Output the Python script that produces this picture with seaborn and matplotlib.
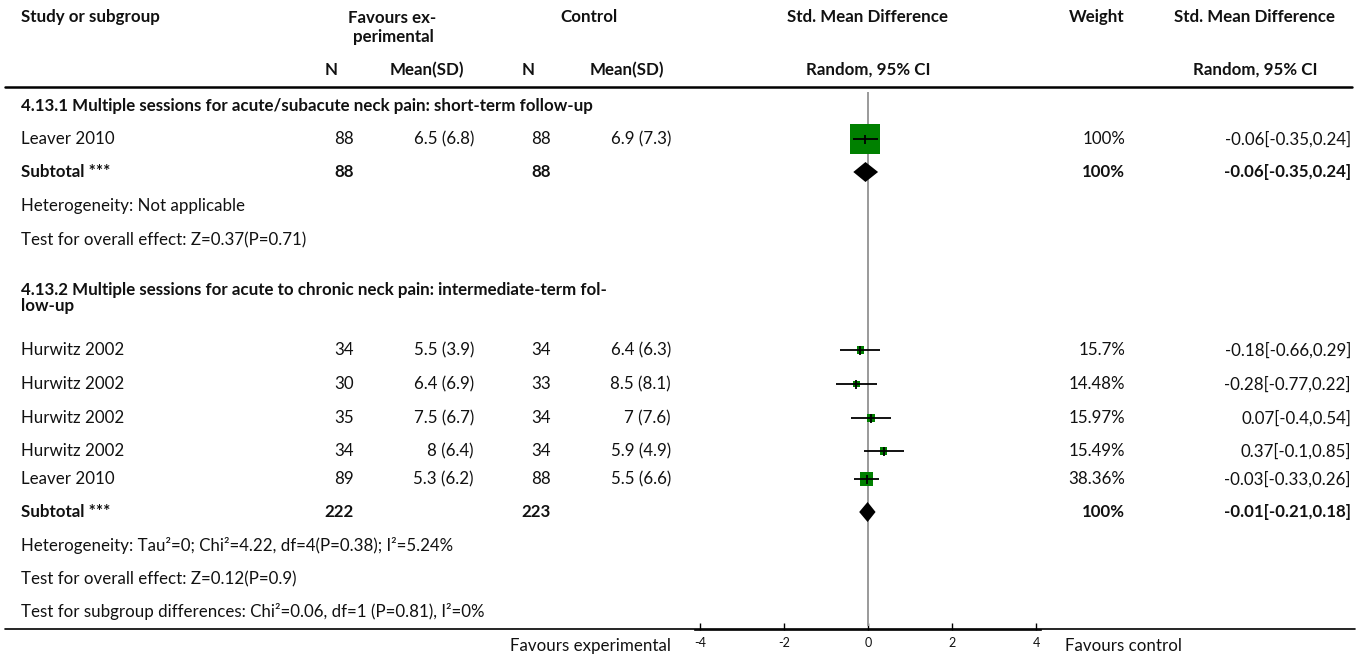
import numpy as np
import pandas as pd
import matplotlib.pyplot as plt
import seaborn as sns

sns.set_theme(style="white")
plt.rcParams['font.family'] = ['Lato', 'DejaVu Sans']

# ---- Data ----
study = ["Leaver 2010",
         "Hurwitz 2002", "Hurwitz 2002", "Hurwitz 2002", "Hurwitz 2002", "Leaver 2010"]
group = [1, 2, 2, 2, 2, 2]
n_exp = [88, 34, 30, 35, 34, 89]
mean_exp = ["6.5 (6.8)", "5.5 (3.9)", "6.4 (6.9)", "7.5 (6.7)", "8 (6.4)", "5.3 (6.2)"]
n_ctl = [88, 34, 33, 34, 34, 88]
mean_ctl = ["6.9 (7.3)", "6.4 (6.3)", "8.5 (8.1)", "7 (7.6)", "5.9 (4.9)", "5.5 (6.6)"]
weight = [100, 15.7, 14.48, 15.97, 15.49, 38.36]
weight_lbl = ["100%", "15.7%", "14.48%", "15.97%", "15.49%", "38.36%"]
smd = [-0.06, -0.18, -0.28, 0.07, 0.37, -0.03]
ci_lo = [-0.35, -0.66, -0.77, -0.4, -0.1, -0.33]
ci_hi = [0.24, 0.29, 0.22, 0.54, 0.85, 0.26]

# subtotals per subgroup
sub_n_exp = [88, 222]
sub_n_ctl = [88, 223]
sub_smd = [-0.06, -0.01]
sub_lo = [-0.35, -0.21]
sub_hi = [0.24, 0.18]
sub_ci_lbl = ["-0.06[-0.35,0.24]", "-0.01[-0.21,0.18]"]

group_titles = ["4.13.1 Multiple sessions for acute/subacute neck pain: short-term follow-up",
                "4.13.2 Multiple sessions for acute to chronic neck pain: intermediate-term fol-\nlow-up"]
heterogeneity = ["Heterogeneity: Not applicable",
                 "Heterogeneity: Tau²=0; Chi²=4.22, df=4(P=0.38); I²=5.24%"]
overall = ["Test for overall effect: Z=0.37(P=0.71)",
           "Test for overall effect: Z=0.12(P=0.9)"]
subgroup_diff = "Test for subgroup differences: Chi²=0.06, df=1 (P=0.81), I²=0%"
xticks = [-4, -2, 0, 2, 4]

# ---- Layout (pixel rows, top-down) ----
W, H = 1370, 657
study_y = [139, 350, 384, 418, 451, 479]
sub_y = [172, 512]
title_y = [106, 298]
het_y = [206, 546]
ovr_y = [240, 579]
diff_y = 611

FS = 12.2
TXT = "#111111"

fig = plt.figure(figsize=(W / 100, H / 100), dpi=100)
bg = fig.add_axes([0, 0, 1, 1])
bg.set_xlim(0, W)
bg.set_ylim(H, 0)
bg.axis("off")

def t(x, y, s, ha="left", bold=False, size=FS, **kw):
    bg.text(x, y, s, ha=ha, va="center", fontsize=size, color=TXT,
            fontweight="bold" if bold else "normal", **kw)

# header
t(21, 17, "Study or subgroup", bold=True)
t(392, 18, "Favours ex-", ha="center", bold=True)
t(393, 37, "perimental", ha="center", bold=True)
t(589, 17, "Control", ha="center", bold=True)
t(868, 17, "Std. Mean Difference", ha="center", bold=True)
t(1124, 17, "Weight", ha="right", bold=True)
t(1255, 17, "Std. Mean Difference", ha="center", bold=True)
t(331, 70, "N", ha="center", bold=True)
t(464, 70, "Mean(SD)", ha="right", bold=True)
t(528, 70, "N", ha="center", bold=True)
t(664, 70, "Mean(SD)", ha="right", bold=True)
t(868, 70, "Random, 95% CI", ha="center", bold=True)
t(1255, 70, "Random, 95% CI", ha="center", bold=True)
bg.plot([5, 1352], [87, 87], color="black", lw=1.8)
bg.plot([5, 1355], [629, 629], color="black", lw=1.2)

# study rows
for i in range(len(study)):
    y = study_y[i]
    t(21, y, study[i])
    t(354, y, str(n_exp[i]), ha="right")
    t(474, y, mean_exp[i], ha="right")
    t(551, y, str(n_ctl[i]), ha="right")
    t(671, y, mean_ctl[i], ha="right")
    t(1125, y, weight_lbl[i], ha="right")
    t(1351, y, f"{smd[i]:.2f}[{ci_lo[i]:g},{ci_hi[i]:g}]", ha="right")

for g in range(2):
    t(21, title_y[g], group_titles[g], bold=True, linespacing=1.05)
    t(21, sub_y[g], "Subtotal ***", bold=True)
    t(354, sub_y[g], str(sub_n_exp[g]), ha="right", bold=True)
    t(551, sub_y[g], str(sub_n_ctl[g]), ha="right", bold=True)
    t(1125, sub_y[g], "100%", ha="right", bold=True)
    t(1351, sub_y[g], sub_ci_lbl[g], ha="right", bold=True)
    t(21, het_y[g], heterogeneity[g])
    t(21, ovr_y[g], overall[g])
t(21, diff_y, subgroup_diff)
t(671, 646, "Favours experimental", ha="right")
t(1065, 646, "Favours control")

# ---- Forest plot axes ----
xmin, xmax = -4.12, 4.12
px_per_unit = 42
left = 868 - (0 - xmin) * px_per_unit
width = (xmax - xmin) * px_per_unit
axis_y = 630
ax = fig.add_axes([left / W, (H - axis_y) / H, width / W, axis_y / H])
ax.set_xlim(xmin, xmax)
ax.set_ylim(axis_y, 0)
ax.patch.set_alpha(0)
for s in ["top", "left", "right"]:
    ax.spines[s].set_visible(False)
ax.spines["bottom"].set_color("black")
ax.spines["bottom"].set_linewidth(1.2)
ax.set_yticks([])
ax.set_xticks(xticks)
ax.set_xticklabels([str(v) for v in xticks])
ax.tick_params(axis="x", direction="in", length=5, width=1, color="black",
               labelsize=9, labelcolor=TXT, pad=5, bottom=True)

ax.vlines(0, 92, 626, color="#9a9a9a", lw=1.4, zorder=1)

df = pd.DataFrame({"smd": smd, "y": study_y, "w": weight})
side_px = 3 + 0.27 * df["w"]
df["area"] = (side_px / 1.389) ** 2
ax.hlines(study_y, ci_lo, ci_hi, color="black", lw=1.3, zorder=3)
sns.scatterplot(data=df, x="smd", y="y", marker="s", color="#008000",
                s=df["area"].tolist(), linewidth=0, ax=ax, zorder=2, legend=False)
ax.vlines(smd, np.array(study_y) - 4.5, np.array(study_y) + 4.5,
          color="black", lw=1.3, zorder=4)

for g in range(2):
    y = sub_y[g]
    h = 10
    ax.fill([sub_lo[g], sub_smd[g], sub_hi[g], sub_smd[g]],
            [y, y - h, y, y + h], color="black", lw=0, zorder=3)

ax.set_xlabel("")
ax.set_ylabel("")

fig.savefig("out.png", dpi=100)
